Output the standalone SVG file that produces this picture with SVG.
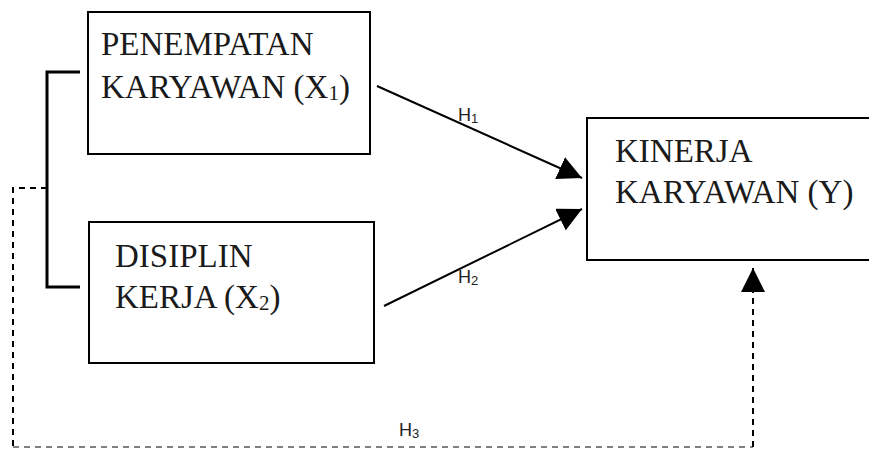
<svg xmlns="http://www.w3.org/2000/svg" width="869" height="449" viewBox="0 0 869 449">
<style>
.box{fill:#fff;stroke:#000;stroke-width:2}
.t{font-family:"Liberation Serif","Times New Roman",serif;font-size:33px;fill:#1a1a1a}
.sub{font-size:21px}
.h{font-family:"Liberation Sans",Arial,sans-serif;font-size:18px;fill:#222}
.hs{font-size:13px}
.ln{fill:none;stroke:#000;stroke-width:2}
.br{fill:none;stroke:#000;stroke-width:3}
.dash{fill:none;stroke:#000;stroke-width:2;stroke-dasharray:6 5}
.dashg{fill:none;stroke:#555;stroke-width:1.5;stroke-dasharray:6 5}
</style>
<defs>
<marker id="ah" viewBox="0 0 10 10" refX="10" refY="5" markerWidth="24" markerHeight="24" markerUnits="userSpaceOnUse" orient="auto">
<path d="M0,0 L10,5 L0,10 Z" fill="#000"/>
</marker>
</defs>
<g id="connectors">
<path class="br" d="M80,72 H47 V287 H80"/>
<path class="dash" d="M47,188 H13 V447"/>
<path class="dashg" d="M13,447 H753"/>
<path class="dash" d="M753,447 V268" marker-end="url(#ah)"/>
<line class="ln" x1="377" y1="86" x2="582" y2="178" marker-end="url(#ah)"/>
<line class="ln" x1="384" y1="306" x2="582" y2="209" marker-end="url(#ah)"/>
<text class="h" x="458" y="121">H<tspan class="hs" dy="2">1</tspan></text>
<text class="h" x="458" y="283">H<tspan class="hs" dy="2">2</tspan></text>
<text class="h" x="399" y="436">H<tspan class="hs" dy="2">3</tspan></text>
</g>
<g id="x1">
<rect class="box" x="88" y="12" width="282" height="142"/>
<text class="t" x="101" y="55">PENEMPATAN</text>
<text class="t" x="101" y="98">KARYAWAN (X<tspan class="sub" dy="2">1</tspan><tspan dy="-2">)</tspan></text>
</g>
<g id="x2">
<rect class="box" x="89" y="222" width="285" height="141"/>
<text class="t" x="115" y="267">DISIPLIN</text>
<text class="t" x="115" y="308">KERJA (X<tspan class="sub" dy="2">2</tspan><tspan dy="-2">)</tspan></text>
</g>
<g id="y">
<rect class="box" x="587" y="118" width="290" height="142"/>
<text class="t" x="615" y="162">KINERJA</text>
<text class="t" x="615" y="203">KARYAWAN (Y)</text>
</g>
</svg>
